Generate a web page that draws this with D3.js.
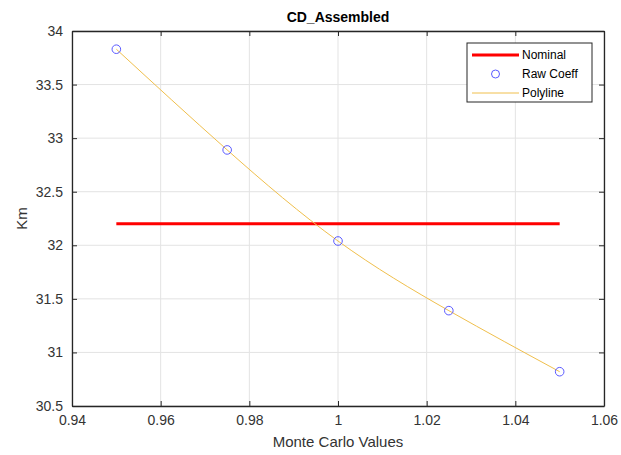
<!DOCTYPE html>
<html>
<head>
<meta charset="utf-8">
<script src="https://cdn.jsdelivr.net/npm/d3@7"></script>
<style>
body { margin: 0; background: #fff; }
text { font-family: "Liberation Sans", Arial, sans-serif; }
</style>
</head>
<body>
<script>
var width = 621;
var height = 455;

// data
var mcValues = [0.95, 0.975, 1.0, 1.025, 1.05];
var rawCoeff = [33.83, 32.89, 32.04, 31.39, 30.82];
var nominalX = [0.95, 1.05];
var nominalY = [32.2, 32.2];
var xTicks = [0.94, 0.96, 0.98, 1, 1.02, 1.04, 1.06];
var yTicks = [30.5, 31, 31.5, 32, 32.5, 33, 33.5, 34];
var legendNames = ["Nominal", "Raw Coeff", "Polyline"];

var pLeft = 72, pRight = 604, pTop = 31, pBottom = 406;

var x = d3.scaleLinear().domain([0.94, 1.06]).range([pLeft, pRight]);
var y = d3.scaleLinear().domain([30.5, 34]).range([pBottom, pTop]);

var svg = d3.select("body").append("svg")
    .attr("width", width)
    .attr("height", height);

// grid
svg.append("g").selectAll("line")
    .data(xTicks).enter().append("line")
    .attr("x1", d => x(d)).attr("x2", d => x(d))
    .attr("y1", pTop).attr("y2", pBottom)
    .style("stroke", "#e3e3e3").style("stroke-width", 1);
svg.append("g").selectAll("line")
    .data(yTicks).enter().append("line")
    .attr("x1", pLeft).attr("x2", pRight)
    .attr("y1", d => y(d)).attr("y2", d => y(d))
    .style("stroke", "#e3e3e3").style("stroke-width", 1);

// nominal
var line = d3.line().x(d => x(d[0])).y(d => y(d[1]));
svg.append("path")
    .datum(d3.zip(nominalX, nominalY))
    .attr("d", line)
    .style("fill", "none").style("stroke", "#ff0000").style("stroke-width", 3);

// polyline
var curve = d3.line().x(d => x(d[0])).y(d => y(d[1])).curve(d3.curveNatural);
svg.append("path")
    .datum(d3.zip(mcValues, rawCoeff))
    .attr("d", curve)
    .style("fill", "none").style("stroke", "#f0bf4c").style("stroke-width", 1);

// raw points
svg.append("g").selectAll("circle")
    .data(d3.zip(mcValues, rawCoeff)).enter().append("circle")
    .attr("cx", d => x(d[0])).attr("cy", d => y(d[1]))
    .attr("r", 4.3)
    .style("fill", "none").style("stroke", "#5a5aff").style("stroke-width", 1);

// axes
var axisColor = "#262626";
function styleAxis(g) {
    g.selectAll("path.domain").style("stroke", axisColor).style("stroke-width", 1.3);
    g.selectAll("line").style("stroke", axisColor);
    g.selectAll("text").style("fill", "#333").style("font-size", "14px");
}
svg.append("g").attr("transform", "translate(0," + pBottom + ")")
    .call(d3.axisBottom(x).tickValues(xTicks).tickSize(-5).tickSizeOuter(0).tickPadding(9)
        .tickFormat(d => String(+d.toFixed(2))))
    .call(styleAxis);
svg.append("g").attr("transform", "translate(0," + pTop + ")")
    .call(d3.axisTop(x).tickValues(xTicks).tickSize(-5).tickSizeOuter(0).tickFormat(""))
    .call(styleAxis);
svg.append("g").attr("transform", "translate(" + pLeft + ",0)")
    .call(d3.axisLeft(y).tickValues(yTicks).tickSize(-5).tickSizeOuter(0).tickPadding(9)
        .tickFormat(d => String(d)))
    .call(styleAxis);
svg.append("g").attr("transform", "translate(" + pRight + ",0)")
    .call(d3.axisRight(y).tickValues(yTicks).tickSize(-5).tickSizeOuter(0).tickFormat(""))
    .call(styleAxis);

// titles
svg.append("text")
    .attr("x", (pLeft + pRight) / 2).attr("y", 22)
    .attr("text-anchor", "middle")
    .style("font-size", "14px").style("font-weight", "bold").style("fill", "#000")
    .text("CD_Assembled");
svg.append("text")
    .attr("x", (pLeft + pRight) / 2).attr("y", 447)
    .attr("text-anchor", "middle")
    .style("font-size", "15px").style("fill", "#333")
    .text("Monte Carlo Values");
svg.append("text")
    .attr("transform", "translate(27," + ((pTop + pBottom) / 2) + ") rotate(-90)")
    .attr("text-anchor", "middle")
    .style("font-size", "15px").style("fill", "#333")
    .text("Km");

// legend
var lg = svg.append("g").attr("transform", "translate(467,43)");
lg.append("rect")
    .attr("width", 125).attr("height", 59)
    .style("fill", "#fff").style("stroke", axisColor).style("stroke-width", 1);
var rows = lg.selectAll("g.row")
    .data(legendNames).enter().append("g")
    .attr("transform", (d, i) => "translate(0," + (12 + i * 19) + ")");
rows.filter((d, i) => i === 0).append("line")
    .attr("x1", 5).attr("x2", 52)
    .style("stroke", "#ff0000").style("stroke-width", 3);
rows.filter((d, i) => i === 1).append("circle")
    .attr("cx", 28.5).attr("r", 4)
    .style("fill", "none").style("stroke", "#5a5aff").style("stroke-width", 1);
rows.filter((d, i) => i === 2).append("line")
    .attr("x1", 5).attr("x2", 52)
    .style("stroke", "#f0bf4c").style("stroke-width", 1);
rows.append("text")
    .attr("x", 55).attr("dy", "0.35em")
    .style("font-size", "12px").style("fill", "#000")
    .text(d => d);
</script>
</body>
</html>
